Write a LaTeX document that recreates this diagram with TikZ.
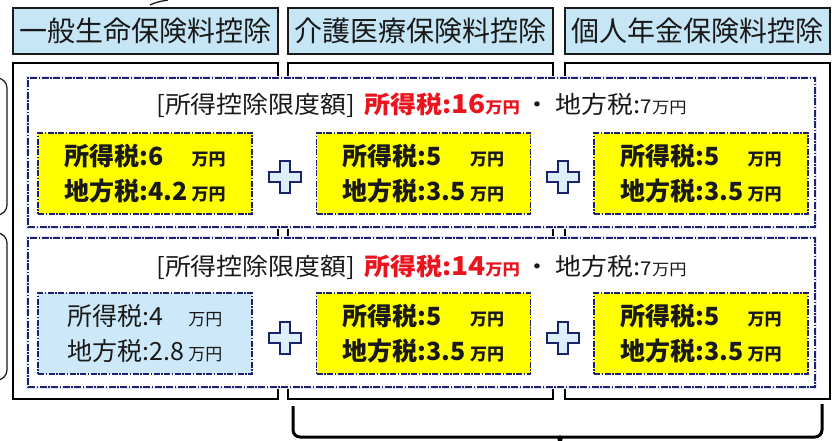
\documentclass[tikz,border=0pt]{standalone}
\usepackage{fontspec}
\setmainfont{Noto Sans CJK JP}
\newfontfamily\jpt[FakeStretch=1.08]{Noto Sans CJK JP}
\definecolor{hdrblue}{RGB}{198,230,246}
\definecolor{navy}{RGB}{28,34,110}
\definecolor{lblue}{RGB}{205,232,248}
\definecolor{halo}{RGB}{225,232,250}
\definecolor{ylw}{RGB}{255,255,0}
\definecolor{redt}{RGB}{235,20,30}
\definecolor{ink}{RGB}{25,25,25}
\newcommand\mny{{\fontsize{17}{17}\selectfont 万円}}
\newcommand\smny{{\fontsize{16}{16}\selectfont 万円}}
\tikzset{
  hdr/.style={draw=ink, line width=1.5pt, fill=hdrblue, minimum width=265pt,
    minimum height=46pt, inner sep=0pt, font=\fontsize{28}{30}\selectfont, text=ink},
  colframe/.style={draw=black, line width=2pt, minimum width=265pt, minimum height=336pt, inner sep=0pt},
  region/.style={draw=navy, line width=1.3pt, fill=white,
    dash pattern=on 7pt off 1.5pt on 1.5pt off 1.5pt,
    preaction={draw=halo, line width=4pt, solid},
    minimum width=787pt, minimum height=149pt, inner sep=0pt},
  valbox/.style={draw=navy, line width=1.5pt, fill=ylw,
    dash pattern=on 6pt off 1.5pt on 1.5pt off 1.5pt,
    minimum width=214pt, minimum height=81pt, inner sep=0pt,
    font=\bfseries\fontsize{25}{35}\selectfont, align=left, text=ink},
  bluebox/.style={valbox, fill=lblue, font=\fontsize{25}{35}\selectfont},
  ttl/.style={inner sep=0pt, text=ink, font=\jpt\fontsize{24}{28}\selectfont},
  sidebox/.style={draw=ink, line width=1.2pt, rounded corners=10pt},
  bracepath/.style={draw=black, line width=3pt, rounded corners=7pt},
  plusmark/.pic={\draw[navy, line width=1.8pt, fill=lblue!70]
    (-5,-16) -- (5,-16) -- (5,-5) -- (16,-5) -- (16,5) -- (5,5) -- (5,16)
    -- (-5,16) -- (-5,5) -- (-16,5) -- (-16,-5) -- (-5,-5) -- cycle;}
}
\begin{document}
\begin{tikzpicture}[x=1pt,y=-1pt]
\useasboundingbox (0,0) rectangle (832,441);
\clip (0,0) rectangle (832,441);
% left partial boxes
\draw[sidebox] (-30,78) rectangle (7,215);
\draw[sidebox] (-30,233) rectangle (7,380);
% small stroke at top
\draw[ink, line width=1.3pt] (150,5) .. controls (157,2) .. (168,0);
% headers
\node[hdr] (h1) at (145.5,31) {一般生命保険料控除};
\node[hdr] (h2) at (420.5,31) {介護医療保険料控除};
\node[hdr] (h3) at (697.5,31) {個人年金保険料控除};
% column frames
\node[colframe] (k1) at (145.5,231) {};
\node[colframe] (k2) at (420.5,231) {};
\node[colframe] (k3) at (697.5,231) {};
% regions
\node[region] (r1) at (421.5,152.5) {};
\node[region] (r2) at (421.5,312.5) {};
% titles
\node[ttl] (t1) at (421.5,105) {[所得控除限度額]\hspace{9pt}{\color{redt}\bfseries 所得税:{\fontsize{26}{26}\selectfont 16}\smny}\hspace{5pt}・\hspace{5pt}地方税:{\fontsize{19}{19}\selectfont 7}\smny};
\node[ttl] (t2) at (421.5,267) {[所得控除限度額]\hspace{9pt}{\color{redt}\bfseries 所得税:{\fontsize{26}{26}\selectfont 14}\smny}\hspace{5pt}・\hspace{5pt}地方税:{\fontsize{19}{19}\selectfont 7}\smny};
% value boxes row 1
\node[valbox] (a1) at (145,173.5) {所得税:6\phantom{.2}\,\mny\\地方税:4.2\,\mny};
\node[valbox] (b1) at (423.5,173.5) {所得税:5\phantom{.5}\,\mny\\地方税:3.5\,\mny};
\node[valbox] (c1) at (701,173.5) {所得税:5\phantom{.5}\,\mny\\地方税:3.5\,\mny};
% value boxes row 2
\node[bluebox] (a2) at (145,333.5) {所得税:4\phantom{.8}\,\mny\\地方税:2.8\,\mny};
\node[valbox] (b2) at (423.5,333.5) {所得税:5\phantom{.5}\,\mny\\地方税:3.5\,\mny};
\node[valbox] (c2) at (701,333.5) {所得税:5\phantom{.5}\,\mny\\地方税:3.5\,\mny};
% plus signs
\pic at (285,177) {plusmark};
\pic at (563,177) {plusmark};
\pic at (285,338) {plusmark};
\pic at (563,338) {plusmark};
% bottom brace
\coordinate (bl) at (293,406);
\coordinate (br) at (822,404);
\coordinate (tip) at (560,448);
\draw[bracepath] (bl) -- (293,437) -- (552,437) .. controls (558,437) and (560,440) .. (tip);
\draw[bracepath] (br) -- (822,437) -- (568,437) .. controls (562,437) and (560,440) .. (tip);
\end{tikzpicture}
\end{document}
